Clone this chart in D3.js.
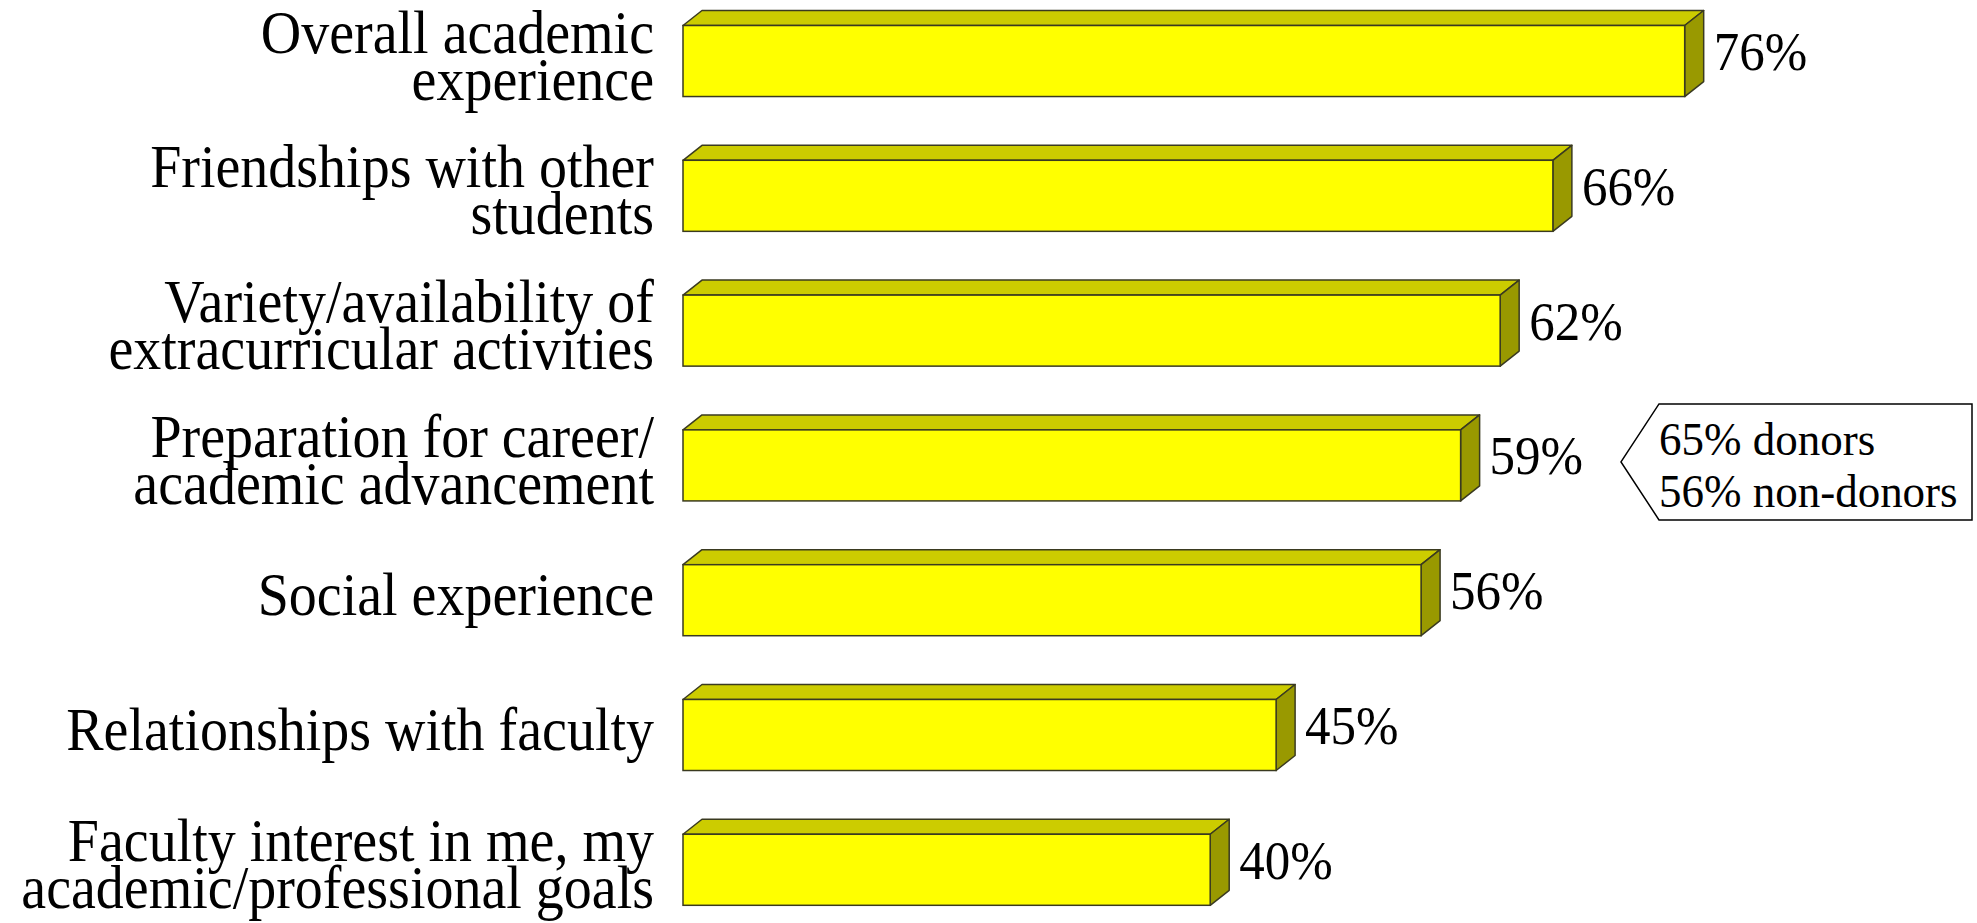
<!DOCTYPE html>
<html>
<head>
<meta charset="utf-8">
<script src="https://cdn.jsdelivr.net/npm/d3@7"></script>
<style>
  html, body { margin: 0; padding: 0; background: #ffffff; }
  svg { display: block; }
  text { font-family: "Liberation Serif", "Times New Roman", serif; fill: #000; }
</style>
</head>
<body>
<svg id="chart" width="1977" height="923"></svg>
<script>
// ---- data ----
const categories = [
  "Overall academic experience",
  "Friendships with other students",
  "Variety/availability of extracurricular activities",
  "Preparation for career/ academic advancement",
  "Social experience",
  "Relationships with faculty",
  "Faculty interest in me, my academic/professional goals"
];
const categoryLines = [
  ["Overall academic", "experience"],
  ["Friendships with other", "students"],
  ["Variety/availability of", "extracurricular activities"],
  ["Preparation for career/", "academic advancement"],
  ["Social experience"],
  ["Relationships with faculty"],
  ["Faculty interest in me, my", "academic/professional goals"]
];
const values = [76, 66, 62, 59, 56, 45, 40];
const calloutCategory = "Preparation for career/ academic advancement";
const calloutLines = ["65% donors", "56% non-donors"];

// ---- layout ----
const svg = d3.select("#chart");
const W = 1977, H = 923;
svg.append("rect").attr("width", W).attr("height", H).attr("fill", "#fff");

const x = d3.scaleLinear().domain([0, 100]).range([683, 683 + 1318]);
const y = d3.scaleBand().domain(categories).range([25.5, 905.3]).paddingInner(0.473).paddingOuter(0);

const dx = 19, dy = 15;
const stroke = "#3a3a20";
const sw = 1.5;

const data = categories.map((c, i) => ({ cat: c, lines: categoryLines[i], v: values[i] }));

const g = svg.append("g");
const bars = g.selectAll("g.bar").data(data).join("g").attr("class", "bar");

// top face
bars.append("path")
  .attr("d", d => {
    const x0 = x(0), x1 = x(d.v), yt = y(d.cat);
    return `M${x0},${yt}L${x0 + dx},${yt - dy}L${x1 + dx},${yt - dy}L${x1},${yt}Z`;
  })
  .attr("fill", "#CCCC00").attr("stroke", stroke).attr("stroke-width", sw).attr("stroke-linejoin", "round");

// side face
bars.append("path")
  .attr("d", d => {
    const x1 = x(d.v), yt = y(d.cat), yb = yt + y.bandwidth();
    return `M${x1},${yt}L${x1 + dx},${yt - dy}L${x1 + dx},${yb - dy}L${x1},${yb}Z`;
  })
  .attr("fill", "#999900").attr("stroke", stroke).attr("stroke-width", sw).attr("stroke-linejoin", "round");

// front face
bars.append("rect")
  .attr("x", x(0))
  .attr("y", d => y(d.cat))
  .attr("width", d => x(d.v) - x(0))
  .attr("height", y.bandwidth())
  .attr("fill", "#FFFF00").attr("stroke", stroke).attr("stroke-width", sw);

// value labels
bars.append("text")
  .attr("transform", d => `translate(${x(d.v) + dx + 10},${y(d.cat) + y.bandwidth() / 2 + 9}) scale(1,1.06)`)
  .attr("font-size", 51)
  .text(d => d.v + "%");

// category labels
const lineH = 47;
const labelRows = [];
data.forEach(d => {
  const cy = y(d.cat) + y.bandwidth() / 2;
  const n = d.lines.length;
  d.lines.forEach((ln, i) => labelRows.push({ text: ln, yb: cy + 15 + (i - (n - 1) / 2) * lineH }));
});
g.selectAll("text.cat").data(labelRows).join("text")
  .attr("class", "cat")
  .attr("text-anchor", "end")
  .attr("font-size", 56)
  .attr("transform", d => `translate(654,${d.yb}) scale(1,1.08)`)
  .text(d => d.text);

// callout
const cy4 = y(calloutCategory) + y.bandwidth() / 2;
const cTop = cy4 - 61.5, cBot = cy4 + 54.5, cLeft = 1659, cRight = 1972, cTip = 1621;
svg.append("path")
  .attr("d", `M${cTip},${(cTop + cBot) / 2}L${cLeft},${cTop}L${cRight},${cTop}L${cRight},${cBot}L${cLeft},${cBot}Z`)
  .attr("fill", "#fff").attr("stroke", "#000").attr("stroke-width", 1.5);
svg.selectAll("text.callout").data(calloutLines).join("text")
  .attr("class", "callout")
  .attr("font-size", 45)
  .attr("transform", (d, i) => `translate(${cLeft},${cy4 - 10 + i * 52}) scale(1,1.04)`)
  .text(d => d);
</script>
</body>
</html>
